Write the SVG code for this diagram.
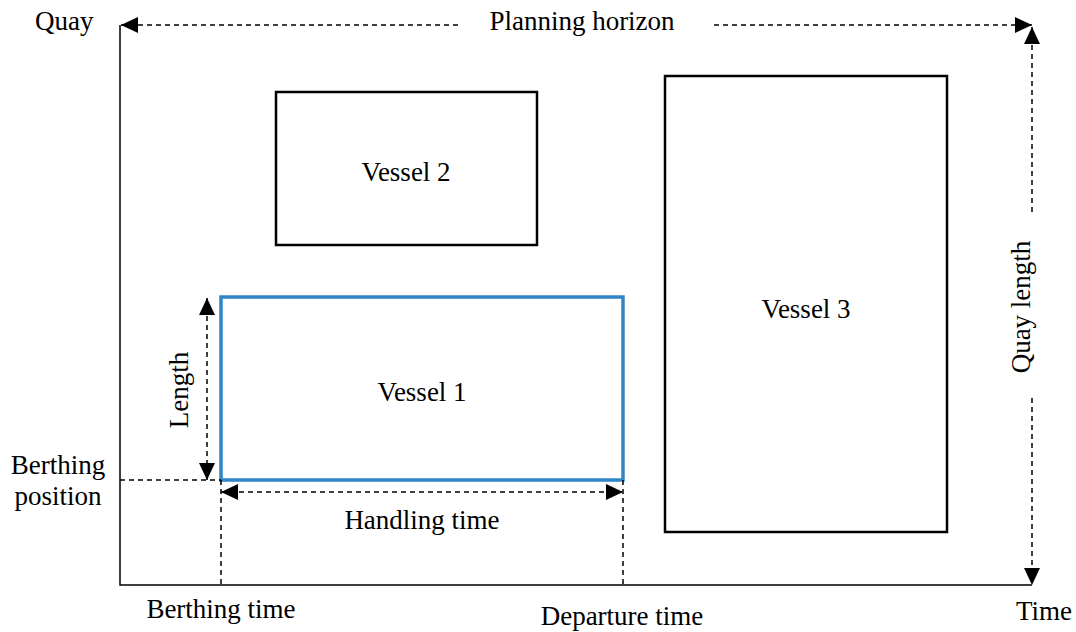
<svg xmlns="http://www.w3.org/2000/svg" width="1076" height="632" viewBox="0 0 1076 632">
<style>
text{font-family:"Liberation Serif","Times New Roman",serif;font-size:27px;fill:#000}
.ax{stroke:#000;stroke-width:1.5;fill:none}
.d{stroke:#000;stroke-width:1.5;fill:none;stroke-dasharray:5,4}
.box{fill:#fff;stroke:#000;stroke-width:2.5}
.blue{fill:#fff;stroke:#2E86C8;stroke-width:3.5}
</style>
<defs>
<marker id="ah" markerUnits="userSpaceOnUse" markerWidth="18" markerHeight="16" viewBox="0 0 18 16" refX="17" refY="8" orient="auto-start-reverse">
<path d="M0,0 L17,8 L0,16 Z" fill="#000"/>
</marker>
</defs>
<rect width="1076" height="632" fill="#fff"/>
<g id="axes">
<path class="ax" d="M120,25 L120,585 L1032,585"/>
</g>
<g id="vessel2"><rect class="box" x="276" y="92" width="261" height="153"/><text x="406" y="181" text-anchor="middle">Vessel 2</text></g>
<g id="vessel3"><rect class="box" x="665" y="76" width="282" height="456"/><text x="806" y="318" text-anchor="middle">Vessel 3</text></g>
<g id="vessel1"><rect class="blue" x="221" y="297" width="402" height="183"/><text x="422" y="401" text-anchor="middle">Vessel 1</text></g>
<g id="connectors">
<path class="d" d="M458,25 L121,25" marker-end="url(#ah)"/>
<path class="d" d="M714,25 L1032,25" marker-end="url(#ah)"/>
<path class="d" d="M1032,212 L1032,27" marker-end="url(#ah)"/>
<path class="d" d="M1032,398 L1032,585" marker-end="url(#ah)"/>
<path class="d" d="M207,298 L207,480" marker-start="url(#ah)" marker-end="url(#ah)"/>
<path class="d" d="M221,492 L623,492" marker-start="url(#ah)" marker-end="url(#ah)"/>
<path class="d" d="M120,480 L221,480"/>
<path class="d" d="M221,480 L221,585"/>
<path class="d" d="M623,480 L623,585"/>
</g>
<g id="labels">
<text x="35" y="30">Quay</text>
<text x="582" y="30" text-anchor="middle">Planning horizon</text>
<text transform="translate(1030,307) rotate(-90)" text-anchor="middle">Quay length</text>
<text transform="translate(188,390) rotate(-90)" text-anchor="middle">Length</text>
<text x="58" y="474" text-anchor="middle">Berthing</text>
<text x="58" y="505" text-anchor="middle">position</text>
<text x="422" y="529" text-anchor="middle">Handling time</text>
<text x="221" y="618" text-anchor="middle">Berthing time</text>
<text x="622" y="625" text-anchor="middle">Departure time</text>
<text x="1016" y="620">Time</text>
</g>
</svg>
